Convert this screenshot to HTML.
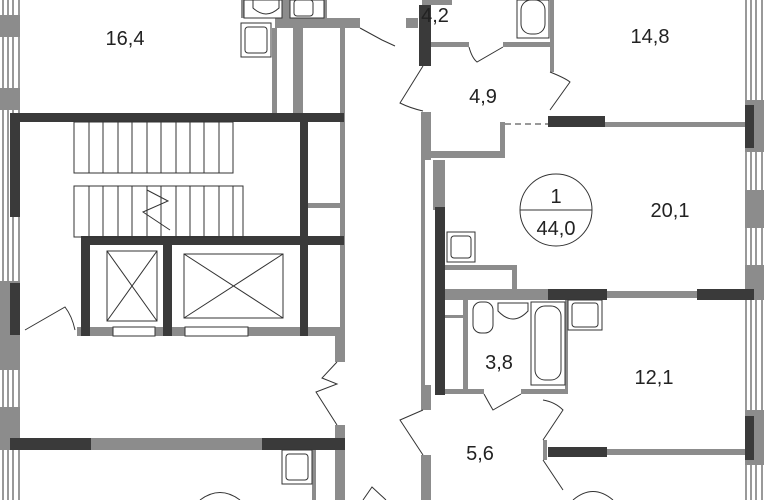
<!DOCTYPE html>
<html><head><meta charset="utf-8"><style>
html,body{margin:0;padding:0;background:#fff;width:764px;height:500px;overflow:hidden}
text{font-family:"Liberation Sans",sans-serif;font-size:20px;fill:#222}
</style></head><body>
<svg width="764" height="500" viewBox="0 0 764 500" xmlns="http://www.w3.org/2000/svg">
<g fill="none" stroke="#333" stroke-width="1">
<line x1="3" y1="0" x2="3" y2="500"/><line x1="8" y1="0" x2="8" y2="500"/><line x1="13" y1="0" x2="13" y2="500"/><line x1="19" y1="0" x2="19" y2="500"/>
<line x1="746" y1="0" x2="746" y2="500"/><line x1="751" y1="0" x2="751" y2="500"/><line x1="756" y1="0" x2="756" y2="500"/><line x1="762" y1="0" x2="762" y2="500"/>
</g>
<g fill="#8c8c8c">
<rect x="0" y="15" width="20" height="22"/><rect x="0" y="88" width="20" height="22"/>
<rect x="0" y="281" width="20" height="89"/><rect x="0" y="407" width="20" height="43"/>
<rect x="745" y="190" width="19" height="38"/><rect x="745" y="265" width="19" height="35"/><rect x="745" y="410" width="19" height="55"/><rect x="745" y="100" width="19" height="52"/>
<rect x="241" y="0" width="86" height="18"/>
<rect x="275" y="18" width="85" height="10"/>
<rect x="272" y="28" width="5" height="85"/><rect x="293" y="28" width="10" height="85"/>
<rect x="340" y="28" width="5" height="334"/>
<rect x="307" y="203" width="37" height="5"/>
<rect x="77" y="327" width="267" height="9"/>
<rect x="91" y="438" width="171" height="12"/>
<rect x="335" y="336" width="10" height="26"/><rect x="335" y="425" width="10" height="75"/>
<rect x="312" y="450" width="4" height="50"/>
<rect x="422" y="0" width="30" height="5"/><rect x="406" y="18" width="12" height="10"/>
<rect x="431" y="42" width="38" height="5"/><rect x="503" y="42" width="47" height="5"/>
<rect x="550" y="0" width="4" height="72"/>
<rect x="421" y="112" width="10" height="48"/>
<rect x="421" y="151" width="82" height="7"/><rect x="500" y="122" width="5" height="36"/>
<rect x="605" y="122" width="140" height="5"/>
<rect x="421" y="160" width="4" height="225"/><rect x="433" y="160" width="12" height="50"/>
<rect x="445" y="265" width="70" height="5"/><rect x="512" y="265" width="5" height="25"/>
<rect x="445" y="289" width="103" height="11"/><rect x="607" y="291" width="90" height="7"/>
<rect x="463" y="300" width="5" height="90"/><rect x="445" y="315" width="18" height="3"/>
<rect x="565" y="300" width="3" height="94"/>
<rect x="445" y="389" width="39" height="5"/><rect x="521" y="389" width="47" height="5"/>
<rect x="421" y="385" width="10" height="25"/><rect x="421" y="455" width="10" height="45"/>
<rect x="543" y="440" width="4" height="20"/>
<rect x="607" y="449" width="138" height="6"/>
</g>
<g fill="#3a3a3a">
<rect x="10" y="114" width="10" height="103"/>
<rect x="10" y="113" width="334" height="9"/>
<rect x="300" y="113" width="8" height="223"/>
<rect x="81" y="236" width="263" height="9"/>
<rect x="81" y="236" width="9" height="100"/><rect x="163" y="236" width="9" height="100"/>
<rect x="10" y="283" width="10" height="52"/>
<rect x="10" y="438" width="81" height="12"/><rect x="262" y="438" width="83" height="12"/>
<rect x="419" y="5" width="12" height="61"/>
<rect x="548" y="116" width="57" height="11"/>
<rect x="745" y="105" width="9" height="43"/>
<rect x="435" y="207" width="10" height="188"/>
<rect x="548" y="289" width="59" height="11"/><rect x="697" y="289" width="57" height="11"/>
<rect x="548" y="447" width="59" height="10"/><rect x="745" y="416" width="9" height="44"/>
</g>
<g fill="none" stroke="#333" stroke-width="1">
<rect x="74" y="122" width="159" height="51"/>
<path d="M89 122v51M103 122v51M118 122v51M132 122v51M147 122v51M161 122v51M176 122v51M190 122v51M204 122v51M219 122v51"/>
<rect x="74" y="186" width="169" height="51"/>
<path d="M89 186v51M103 186v51M118 186v51M132 186v51M147 186v51M161 186v51M176 186v51M190 186v51M204 186v51M219 186v51M233 186v51"/>
<path d="M147 190 L168 201 L143 212 L170 230"/>
<rect x="107" y="251" width="50" height="70"/><path d="M107 251L157 321M157 251L107 321"/>
<rect x="184" y="254" width="99" height="64"/><path d="M184 254L283 318M283 254L184 318"/>
<rect x="113" y="327" width="42" height="9" fill="#fff"/><rect x="185" y="327" width="63" height="9" fill="#fff"/>
<g fill="#fff">
<rect x="241" y="23" width="30" height="34"/><rect x="245" y="27" width="22" height="26" rx="3"/>
<rect x="244" y="0" width="38" height="18"/><path d="M253 0 h26 v8 q-13 12 -26 0 z"/>
<rect x="290" y="0" width="34" height="18"/><rect x="294" y="0" width="19" height="16" rx="3"/>
<rect x="282" y="450" width="30" height="34"/><rect x="286" y="454" width="22" height="26" rx="3"/>
<rect x="517" y="0" width="32" height="38"/><rect x="521" y="0" width="24" height="34" rx="10"/>
<rect x="447" y="232" width="28" height="30"/><rect x="451" y="236" width="20" height="22" rx="3"/>
<rect x="473" y="302" width="20" height="31" rx="8"/>
<path d="M498 303 h30 v8 q-15 16 -30 0 z"/>
<rect x="531" y="302" width="34" height="83"/><rect x="535" y="306" width="26" height="74" rx="10"/>
<rect x="568" y="300" width="34" height="30"/><rect x="572" y="303" width="26" height="24" rx="3"/>
</g>
<path d="M25 330 L65 307 Q72 316 75 330"/>
<path d="M337 362 L322 378 L337 384 L316 392 L337 425"/>
<path d="M360 28 L382 40 L395 46"/>
<path d="M469 47 Q472 58 477 62 L503 47"/>
<path d="M423 66 L400 103 Q410 108 423 111"/>
<path d="M550 72 Q565 78 570 82 L550 110"/>
<path d="M484 394 Q490 405 493 410 L521 394"/>
<path d="M423 410 L400 420 L423 455"/>
<path d="M543 400 Q555 402 563 410 L543 440 M543 460 L563 490"/>
<path d="M363 500 L372 487 L386 500"/>
<path d="M200 500 Q220 485 240 500"/><path d="M573 500 Q593 483 613 500"/>
</g>
<line x1="505" y1="124" x2="548" y2="124" stroke="#333" stroke-dasharray="6,4"/>
<circle cx="556" cy="210" r="36" fill="none" stroke="#333"/>
<line x1="520" y1="210" x2="592" y2="210" stroke="#333"/>
<text x="556" y="203" text-anchor="middle">1</text>
<text x="556" y="235" text-anchor="middle">44,0</text>
<text x="125" y="45" text-anchor="middle">16,4</text>
<text x="435" y="22" text-anchor="middle">4,2</text>
<text x="650" y="43" text-anchor="middle">14,8</text>
<text x="483" y="103" text-anchor="middle">4,9</text>
<text x="670" y="217" text-anchor="middle">20,1</text>
<text x="499" y="369" text-anchor="middle">3,8</text>
<text x="654" y="384" text-anchor="middle">12,1</text>
<text x="480" y="460" text-anchor="middle">5,6</text>
</svg>
</body></html>
